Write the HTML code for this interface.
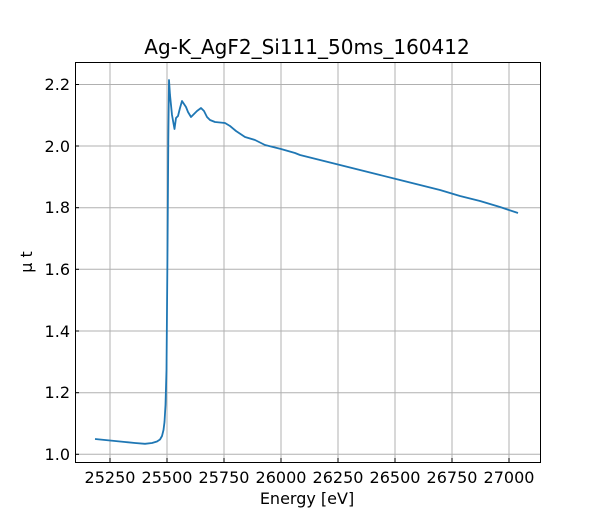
<!DOCTYPE html>
<html><head><style>
body{margin:0;background:#fff;}
svg text{font-family:"DejaVu Sans","Liberation Sans",sans-serif;fill:#000;}
</style></head><body>
<svg width="600" height="520" xmlns="http://www.w3.org/2000/svg">
<rect width="600" height="520" fill="#fff"/>
<g stroke="#b0b0b0" stroke-width="1">
<line x1="110" y1="62" x2="110" y2="462"/>
<line x1="167" y1="62" x2="167" y2="462"/>
<line x1="224" y1="62" x2="224" y2="462"/>
<line x1="281" y1="62" x2="281" y2="462"/>
<line x1="338" y1="62" x2="338" y2="462"/>
<line x1="395" y1="62" x2="395" y2="462"/>
<line x1="452" y1="62" x2="452" y2="462"/>
<line x1="509" y1="62" x2="509" y2="462"/>
<line x1="75" y1="84.5" x2="540" y2="84.5"/>
<line x1="75" y1="146" x2="540" y2="146"/>
<line x1="75" y1="207.7" x2="540" y2="207.7"/>
<line x1="75" y1="269.3" x2="540" y2="269.3"/>
<line x1="75" y1="331" x2="540" y2="331"/>
<line x1="75" y1="392.7" x2="540" y2="392.7"/>
<line x1="75" y1="454.3" x2="540" y2="454.3"/>
</g>
<polyline fill="none" stroke="#1f77b4" stroke-width="1.8" stroke-linejoin="round" points="95,439 110,440.5 125,442 135,443 145,443.8 152,443 157,441.5 160,439.5 162,436 163.5,430 164.5,422 165.5,405 166.5,370 167.5,250 168.3,140 169,80 170,95 172,115 174.5,129 176,118 178,116 180,108 182,101 184,104 186,107 188,112 191,117 194,114 197,111 201,108 204,111 207,117 210,120 215,122 225,123 230,126 236,131 245,137 255,140 265,145 281,149 295,153 300,155 320,160 340,165 360,170 380,175 400,180 420,185 440,190 460,196 480,201 500,207 518,213"/>
<rect x="75.5" y="62.5" width="465" height="400" fill="none" stroke="#000" stroke-width="1"/>
<g stroke="#000" stroke-width="1">
<line x1="110" y1="462" x2="110" y2="458"/><line x1="167" y1="462" x2="167" y2="458"/>
<line x1="224" y1="462" x2="224" y2="458"/><line x1="281" y1="462" x2="281" y2="458"/>
<line x1="338" y1="462" x2="338" y2="458"/><line x1="395" y1="462" x2="395" y2="458"/>
<line x1="452" y1="462" x2="452" y2="458"/><line x1="509" y1="462" x2="509" y2="458"/>
<line x1="75" y1="84.5" x2="79" y2="84.5"/><line x1="75" y1="146" x2="79" y2="146"/>
<line x1="75" y1="207.7" x2="79" y2="207.7"/><line x1="75" y1="269.3" x2="79" y2="269.3"/>
<line x1="75" y1="331" x2="79" y2="331"/><line x1="75" y1="392.7" x2="79" y2="392.7"/>
<line x1="75" y1="454.3" x2="79" y2="454.3"/>
</g>
<g font-size="16" text-anchor="middle">
<text x="110" y="483">25250</text><text x="167" y="483">25500</text>
<text x="224" y="483">25750</text><text x="281" y="483">26000</text>
<text x="338" y="483">26250</text><text x="395" y="483">26500</text>
<text x="452" y="483">26750</text><text x="509" y="483">27000</text>
</g>
<g font-size="16" text-anchor="end">
<text x="70" y="90">2.2</text><text x="70" y="152">2.0</text>
<text x="70" y="213">1.8</text><text x="70" y="275">1.6</text>
<text x="70" y="337">1.4</text><text x="70" y="398">1.2</text>
<text x="70" y="460">1.0</text>
</g>
<text x="307" y="504" font-size="16" text-anchor="middle">Energy [eV]</text>
<text x="32" y="262" font-size="16" text-anchor="middle" transform="rotate(-90 32 262)">μ t</text>
<text x="307" y="54" font-size="20" text-anchor="middle">Ag-K_AgF2_Si111_50ms_160412</text>
</svg>
</body></html>
